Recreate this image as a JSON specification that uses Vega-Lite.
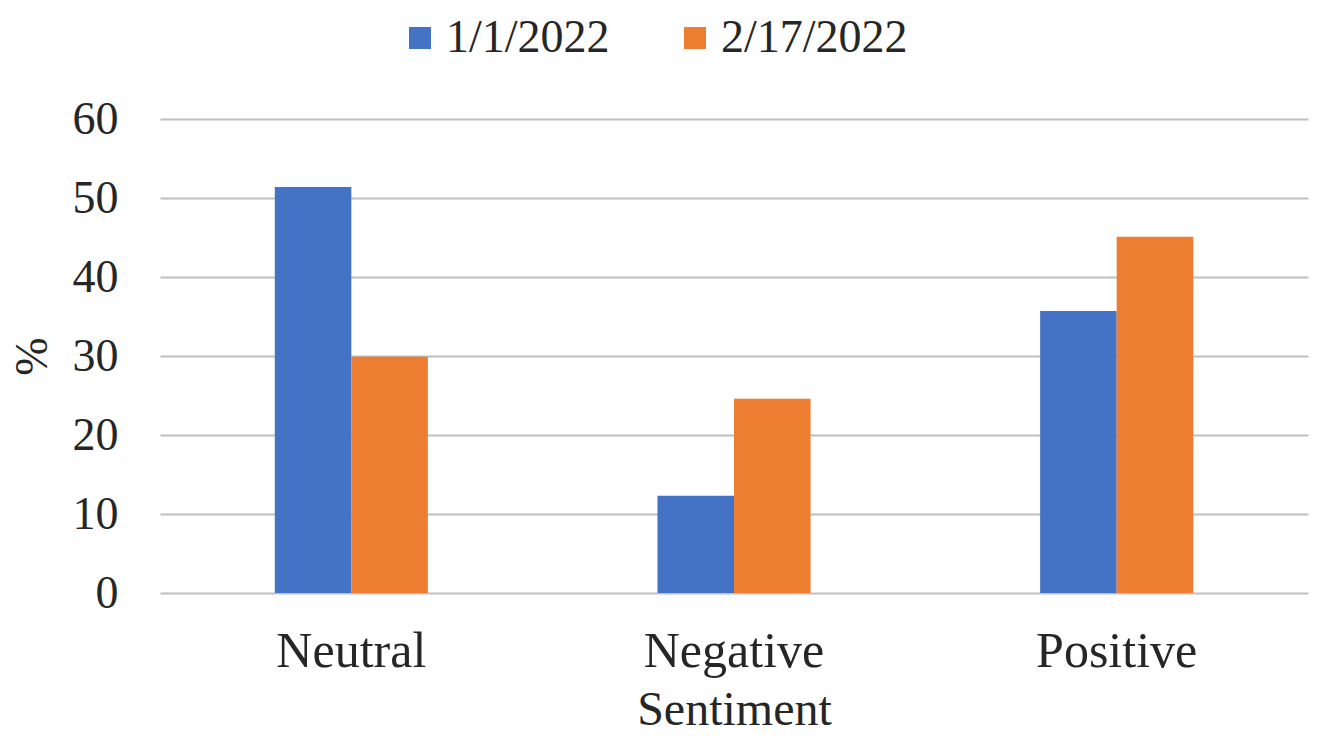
{
  "$schema": "https://vega.github.io/schema/vega-lite/v6.json",
  "width": 1148,
  "height": 474,
  "autosize": {"type": "none"},
  "padding": {"left": 160, "top": 119, "right": 14, "bottom": 147},
  "background": "white",
  "data": {
    "values": [
      {"Sentiment": "Neutral", "Date": "1/1/2022", "Percent": 51.4},
      {"Sentiment": "Neutral", "Date": "2/17/2022", "Percent": 29.9},
      {"Sentiment": "Negative", "Date": "1/1/2022", "Percent": 12.3},
      {"Sentiment": "Negative", "Date": "2/17/2022", "Percent": 24.6},
      {"Sentiment": "Positive", "Date": "1/1/2022", "Percent": 35.7},
      {"Sentiment": "Positive", "Date": "2/17/2022", "Percent": 45.1}
    ]
  },
  "mark": {"type": "bar"},
  "encoding": {
    "x": {
      "field": "Sentiment",
      "type": "nominal",
      "sort": ["Neutral", "Negative", "Positive"],
      "scale": {"paddingInner": 0.6, "paddingOuter": 0.3},
      "axis": {
        "title": "Sentiment",
        "labelAngle": 0,
        "domain": false,
        "ticks": false,
        "labelPadding": 33,
        "labelLimit": 400,
        "titlePadding": 10,
        "labelFont": "Liberation Serif",
        "labelFontSize": 50,
        "labelColor": "#262626",
        "titleFont": "Liberation Serif",
        "titleFontSize": 48,
        "titleFontWeight": "normal",
        "titleColor": "#262626"
      }
    },
    "xOffset": {"field": "Date", "type": "nominal", "sort": ["1/1/2022", "2/17/2022"]},
    "y": {
      "field": "Percent",
      "type": "quantitative",
      "scale": {"domain": [0, 60]},
      "axis": {
        "title": "%",
        "values": [0, 10, 20, 30, 40, 50, 60],
        "domain": false,
        "ticks": false,
        "grid": true,
        "gridColor": "#BFBFBF",
        "gridWidth": 2,
        "labelPadding": 42,
        "labelFont": "Liberation Serif",
        "labelFontSize": 46,
        "labelColor": "#262626",
        "titleFont": "Liberation Serif",
        "titleFontSize": 46,
        "titleFontWeight": "normal",
        "titleColor": "#262626",
        "titlePadding": 16
      }
    },
    "color": {
      "field": "Date",
      "type": "nominal",
      "sort": ["1/1/2022", "2/17/2022"],
      "scale": {"domain": ["1/1/2022", "2/17/2022"], "range": ["#4472C4", "#ED7D31"]},
      "legend": {
        "title": null,
        "orient": "none",
        "direction": "horizontal",
        "legendX": 237,
        "legendY": -104,
        "symbolType": "square",
        "symbolSize": 484,
        "symbolStrokeWidth": 0,
        "labelFont": "Liberation Serif",
        "labelFontSize": 46,
        "labelColor": "#262626",
        "labelLimit": 400,
        "labelOffset": 3,
        "columnPadding": 62
      }
    }
  },
  "config": {"view": {"stroke": null}}
}
